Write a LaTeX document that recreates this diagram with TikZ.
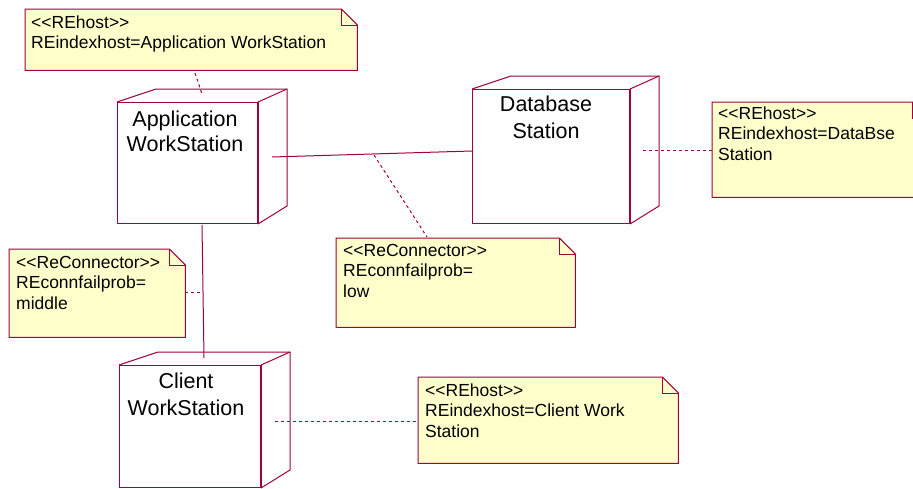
\documentclass[tikz,border=0pt]{standalone}
\usepackage{fontspec}
\setmainfont{Liberation Sans}
\usetikzlibrary{calc}
\definecolor{umlline}{RGB}{160,0,60}
\definecolor{notefill}{RGB}{255,255,204}
\tikzset{
  thinline/.style={draw=umlline, line width=1pt},
  thickedge/.style={draw=umlline, line width=2pt},
  noteline/.style={draw=umlline, line width=1pt, dash pattern=on 3pt off 3pt},
  titletext/.style={inner sep=0pt, anchor=base, font=\fontsize{21.5}{26}\selectfont},
  notetext/.style={inner sep=0pt, anchor=base west, font=\fontsize{17.5}{20.5}\selectfont},
}
% deployment node: name, x1, y1, x2, y2 (front face); y grows downward
\newcommand\deploynode[5]{%
  \node[name=#1, thinline, inner sep=0pt, minimum width={(#4-#2)*1pt}, minimum height={(#5-#3)*1pt}, anchor=north west] at (#2,#3) {};
  \draw[thinline] (#1.north west) -- ++(39,-13) -- ($(#1.north east)+(29,-13)$) -- ($(#1.south east)+(29,-18)$) -- (#1.south east);
  \draw[thinline] (#1.north east) -- ++(29,-13);
  \draw[thickedge] (#1.north east) -- (#1.south east);
}
% note: name, x1, y1, x2, y2
\newcommand\umlnote[5]{%
  \node[name=#1, inner sep=0pt, minimum width={(#4-#2)*1pt}, minimum height={(#5-#3)*1pt}, anchor=north west] at (#2,#3) {};
  \filldraw[fill=notefill, thinline] (#1.north west) -- ($(#1.north east)+(-16,0)$) -- ($(#1.north east)+(0,16)$) -- (#1.south east) -- (#1.south west) -- cycle;
  \draw[thinline] ($(#1.north east)+(-16,0)$) -- ($(#1.north east)+(-16,16)$) -- ($(#1.north east)+(0,16)$);
}
\newcommand\lt{<\kern0pt<}
\newcommand\gt{>\kern0pt>}
\begin{document}
\begin{tikzpicture}[x=1pt,y=-1pt]
\useasboundingbox (0,0) rectangle (913,488);
\clip (0,0) rectangle (913,488);

% notes
\umlnote{noteapp}{25}{9}{357}{70}
\node[notetext] (tapp) at (31,28) {\begin{tabular}[t]{@{}l@{}}\lt REhost\gt\\REindexhost=Application WorkStation\end{tabular}};

\umlnote{notedb}{712}{102}{928}{197}
\node[notetext] (tdb) at (718,119) {\begin{tabular}[t]{@{}l@{}}\lt REhost\gt\\REindexhost=DataBse\\Station\end{tabular}};

\umlnote{notelow}{336}{238}{575}{327}
\node[notetext] (tlow) at (343,256) {\begin{tabular}[t]{@{}l@{}}\lt ReConnector\gt\\REconnfailprob=\\low\end{tabular}};

\umlnote{notemid}{9}{249}{185}{337}
\node[notetext] (tmid) at (16,268) {\begin{tabular}[t]{@{}l@{}}\lt ReConnector\gt\\REconnfailprob=\\middle\end{tabular}};

\umlnote{notecli}{418}{377}{678}{463}
\node[notetext] (tcli) at (425,396) {\begin{tabular}[t]{@{}l@{}}\lt REhost\gt\\REindexhost=Client Work\\Station\end{tabular}};

% deployment nodes
\deploynode{app}{117}{102}{257}{223}
\node[titletext] (app1) at (185,126) {Application};
\node[titletext] (app2) at (185,151) {WorkStation};

\deploynode{db}{472}{89}{629}{223}
\node[titletext] (db1) at (546,111) {Database};
\node[titletext] (db2) at (546,138) {Station};

\deploynode{cli}{119}{365}{260}{487}
\node[titletext] (cli1) at (186,388) {Client};
\node[titletext] (cli2) at (186,415) {WorkStation};

% connectors
\coordinate (appR) at (272,157);
\coordinate (dbL) at (472,151);
\draw[thinline] (appR) -- (dbL);
\coordinate (appB) at (202,225);
\coordinate (cliT) at (204,358);
\draw[thinline] (appB) -- (cliT);

% note links
\coordinate (l1a) at (195,73);
\coordinate (l1b) at (202,94);
\draw[noteline] (l1a) -- (l1b);
\coordinate (l2a) at (643,150);
\draw[noteline] (l2a) -- (notedb.west |- l2a);
\coordinate (l3a) at (374,155);
\coordinate (l3b) at (427,237);
\draw[noteline] (l3a) -- (l3b);
\coordinate (l4a) at (203,292);
\draw[noteline] (notemid.east |- l4a) -- (l4a);
\coordinate (l5a) at (275,421);
\draw[noteline] (l5a) -- (notecli.west |- l5a);
\end{tikzpicture}
\end{document}
